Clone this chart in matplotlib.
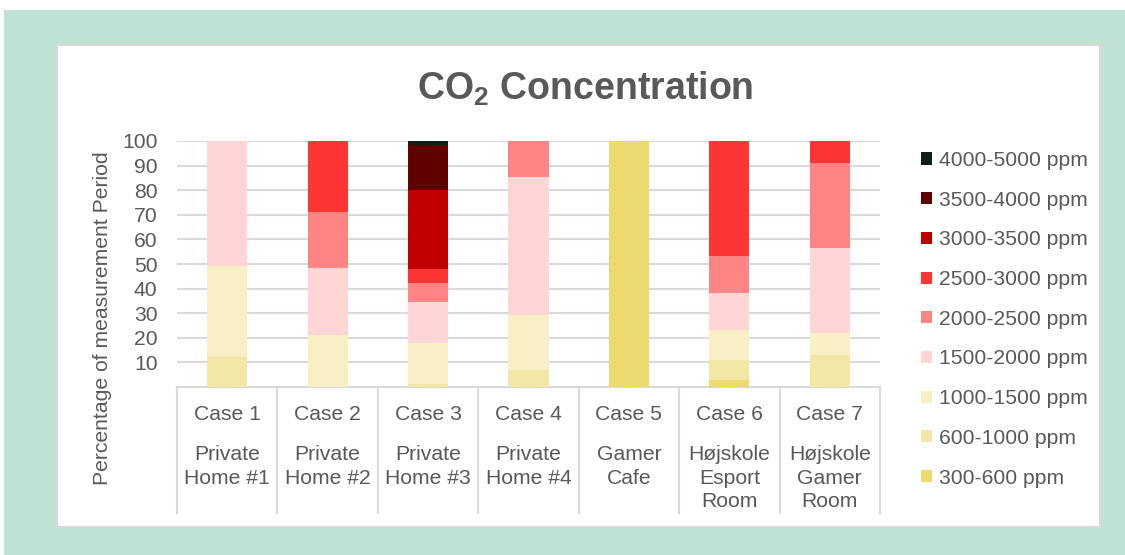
import matplotlib
matplotlib.use("Agg")
import matplotlib.pyplot as plt
from matplotlib.patches import Rectangle, Patch
from matplotlib.transforms import blended_transform_factory
import numpy as np

plt.rcParams['font.family'] = ['Liberation Sans', 'DejaVu Sans']
plt.rcParams['mathtext.fontset'] = 'custom'
plt.rcParams['mathtext.rm'] = 'Liberation Sans:bold'
plt.rcParams['mathtext.bf'] = 'Liberation Sans:bold'

# ---- data -------------------------------------------------------------
cases = ["Case 1", "Case 2", "Case 3", "Case 4", "Case 5", "Case 6", "Case 7"]
descriptions = ["Private\nHome #1", "Private\nHome #2", "Private\nHome #3",
                "Private\nHome #4", "Gamer\nCafe", "Højskole\nEsport\nRoom",
                "Højskole\nGamer\nRoom"]

bands = ["300-600 ppm", "600-1000 ppm", "1000-1500 ppm", "1500-2000 ppm",
         "2000-2500 ppm", "2500-3000 ppm", "3000-3500 ppm", "3500-4000 ppm",
         "4000-5000 ppm"]

ppm_300_600   = [0.0, 0.0, 0.0, 0.0, 100.0, 2.8, 0.0]
ppm_600_1000  = [12.0, 0.0, 1.2, 6.9, 0.0, 8.2, 13.0]
ppm_1000_1500 = [37.0, 21.0, 16.7, 22.4, 0.0, 12.2, 9.1]
ppm_1500_2000 = [51.0, 27.5, 16.7, 55.9, 0.0, 14.9, 34.4]
ppm_2000_2500 = [0.0, 22.5, 7.7, 14.8, 0.0, 15.2, 34.6]
ppm_2500_3000 = [0.0, 29.0, 5.7, 0.0, 0.0, 46.7, 8.9]
ppm_3000_3500 = [0.0, 0.0, 32.1, 0.0, 0.0, 0.0, 0.0]
ppm_3500_4000 = [0.0, 0.0, 18.3, 0.0, 0.0, 0.0, 0.0]
ppm_4000_5000 = [0.0, 0.0, 1.6, 0.0, 0.0, 0.0, 0.0]

series = [ppm_300_600, ppm_600_1000, ppm_1000_1500, ppm_1500_2000,
          ppm_2000_2500, ppm_2500_3000, ppm_3000_3500, ppm_3500_4000,
          ppm_4000_5000]

colors = ["#EDDA6E", "#F3E7A6", "#F8EFC5", "#FFD5D5", "#FF8585",
          "#FF3434", "#C00000", "#600000", "#0F1F17"]

y_ticks = [10, 20, 30, 40, 50, 60, 70, 80, 90, 100]

# ---- figure -----------------------------------------------------------
W, H = 1125, 555
fig = plt.figure(figsize=(W / 100, H / 100), dpi=100)
fig.patch.set_facecolor("white")

def fx(px):
    return px / W

def fy(py):
    return 1 - py / H

# mint backdrop and white chart panel
fig.patches.append(Rectangle((fx(4), fy(555)), fx(1125 - 4), (555 - 10) / H,
                             transform=fig.transFigure, facecolor="#C0E2D2",
                             edgecolor="none", zorder=0))
fig.patches.append(Rectangle((fx(57), fy(527)), fx(1100 - 57), (527 - 45) / H,
                             transform=fig.transFigure, facecolor="white",
                             edgecolor="#D9D9D9", linewidth=1.5, zorder=1))

ax_l, ax_r, ax_t, ax_b = 177, 880, 141, 387
ax = fig.add_axes([fx(ax_l), fy(ax_b), fx(ax_r - ax_l), (ax_b - ax_t) / H])
ax.set_facecolor("none")
ax.set_zorder(2)

text_color = "#595959"
grid_color = "#D9D9D9"
fs = 15.2

x = np.arange(len(cases))
bottom = np.zeros(len(cases))
for vals, col, lab in zip(series, colors, bands):
    v = np.array(vals)
    ax.bar(x, v, width=0.4, bottom=bottom, color=col, edgecolor="none",
           label=lab, zorder=3)
    bottom += v

ax.set_xlim(-0.5, len(cases) - 0.5)
ax.set_ylim(0, 100)
ax.set_yticks(y_ticks)
ax.set_yticklabels([str(t) for t in y_ticks], fontsize=fs, color=text_color)
ax.tick_params(axis="y", length=0, pad=14)
ax.yaxis.grid(True, color=grid_color, linewidth=1.5, zorder=0)
ax.set_axisbelow(True)

for s in ["top", "right", "left"]:
    ax.spines[s].set_visible(False)
ax.spines["bottom"].set_color(grid_color)
ax.spines["bottom"].set_linewidth(1.5)

ax.set_xticks(x)
ax.set_xticklabels(cases, fontsize=fs, color=text_color)
ax.tick_params(axis="x", length=0, pad=13)

trans = blended_transform_factory(ax.transData, ax.transAxes)
height = ax_b - ax_t
# category cell separators below the axis
for b in np.arange(-0.5, len(cases), 1.0):
    ax.plot([b, b], [0, -(513 - ax_b) / height], transform=trans,
            color=grid_color, linewidth=1.5, clip_on=False, zorder=1)

for xi, desc in zip(x, descriptions):
    ax.text(xi, -(445 - ax_b) / height, desc, transform=trans, ha="center",
            va="top", fontsize=fs, color=text_color, linespacing=1.3)

fig.text(fx(103), fy(318), "Percentage of measurement Period", rotation=90,
         ha="center", va="center", fontsize=fs, color=text_color)

fig.text(fx(585), fy(89), r"CO$_\mathregular{2}$ Concentration", ha="center",
         va="center", fontsize=27, fontweight="bold", color=text_color)

handles = [Patch(facecolor=c, edgecolor="none") for c in colors][::-1]
labels = bands[::-1]
leg = fig.legend(handles, labels, loc="upper left",
                 bbox_to_anchor=(fx(921), fy(151)), frameon=False,
                 fontsize=fs, handlelength=0.5, handleheight=0.5,
                 handletextpad=0.35, labelspacing=0.98, borderpad=0,
                 borderaxespad=0)
for t in leg.get_texts():
    t.set_color(text_color)

fig.savefig("out.png", dpi=100)
